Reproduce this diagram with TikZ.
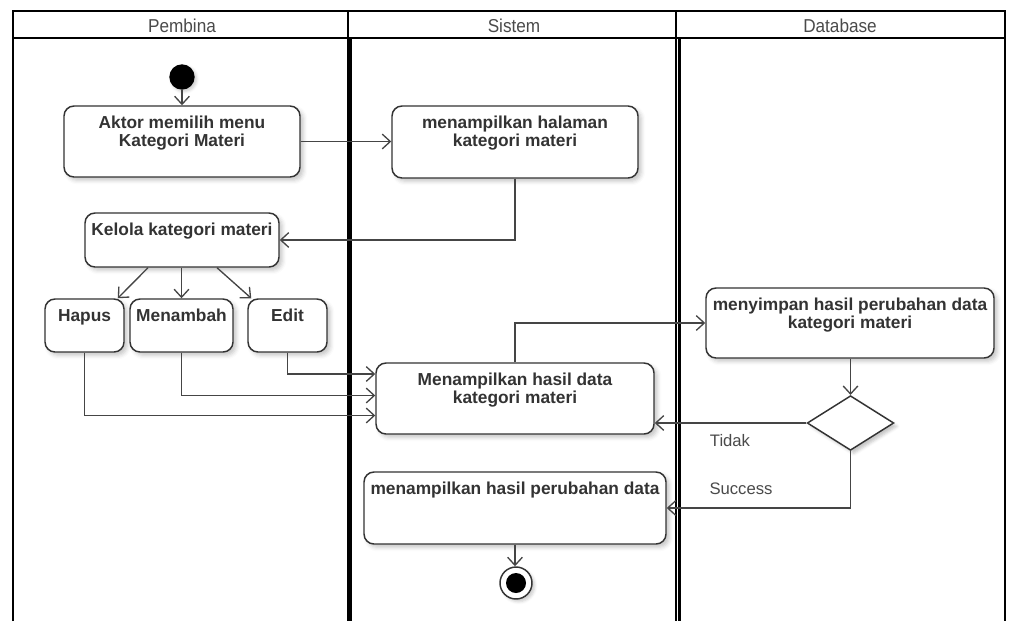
\documentclass[tikz,border=0pt]{standalone}
\usepackage{fontspec}
\setmainfont{Liberation Sans}
\usetikzlibrary{arrows.meta,shapes.geometric,fit,calc,shadows.blur}

\definecolor{ink}{HTML}{333333}
\definecolor{wire}{HTML}{454545}
\definecolor{capt}{HTML}{4A4A4A}

\begin{document}
\begin{tikzpicture}[x=0.75pt,y=-0.75pt,
  act/.style={draw=ink, line width=1.1pt, rounded corners=7.5pt, fill=white, inner sep=0pt,
    blur shadow={shadow xshift=2.5pt, shadow yshift=-2.5pt, shadow blur radius=3pt, shadow opacity=22}},
  % base of a one-line text; a two-line text has its base on the second line
  atext/.style={anchor=base, inner sep=0pt, yshift=-17.5pt, align=center, text=ink,
    font=\fontsize{13}{13.5}\selectfont\bfseries},
  atwo/.style={atext, yshift=-13.5pt},
  flow/.style={draw=wire, line width=1pt, -{Straight Barb[length=6pt,width=11pt]}},
  frame/.style={draw=black, line width=1.2pt},
  heavy/.style={draw=black, line width=3.8pt},
  medium/.style={draw=black, line width=2.5pt},
  lanehead/.style={anchor=base, inner sep=0pt, text=capt, font=\fontsize{14}{14}\selectfont},
  guard/.style={inner sep=0pt, text=capt, font=\fontsize{12.5}{12.5}\selectfont}
]
\useasboundingbox (0,0) rectangle (1009,621);

% swimlane frame
\draw[frame] (13,621) -- (13,10.7) -- (1005,10.7) -- (1005,621);
\draw[frame] (13,37.7) -- (1005,37.7);
\draw[frame] (348,10.7) -- (348,37.7);
\draw[frame] (676,10.7) -- (676,37.7);
\draw[heavy] (349.5,37.7) -- (349.5,621);
\draw[frame] (676,37.7) -- (676,621);
\draw[medium] (679.5,37.7) -- (679.5,621);

\node (hPembina) [lanehead] at (182,32) {\scalebox{0.92}[1]{Pembina}};
\node (hSistem) [lanehead] at (514,32) {\scalebox{0.92}[1]{Sistem}};
\node (hDatabase) [lanehead] at (840,32) {\scalebox{0.92}[1]{Database}};

% start and end
\node (init) [circle, fill=black, minimum size=19pt, inner sep=0pt,
  blur shadow={shadow xshift=1.5pt, shadow yshift=-1.5pt, shadow opacity=20}] at (182,77) {};
\node (fin) [circle, draw=ink, line width=1.1pt, fill=white, minimum size=24pt, inner sep=0pt,
  blur shadow={shadow xshift=2pt, shadow yshift=-2pt, shadow opacity=20},
  path picture={\fill[black] (path picture bounding box.center) circle (7.5pt);}] at (516,583) {};

% actions
\node (a1) [act, fit={(64,106)(300,177)},
  label={[atwo]north:{Aktor memilih menu\\Kategori Materi}}] {};
\node (s1) [act, fit={(392,106)(638,178)},
  label={[atwo]north:{menampilkan halaman\\kategori materi}}] {};
\node (kel) [act, fit={(85,213)(279,267)},
  label={[atext]north:{Kelola kategori materi}}] {};
\node (hap) [act, fit={(45,299)(124,352)},
  label={[atext]north:{Hapus}}] {};
\node (men) [act, fit={(130,299)(233,352)},
  label={[atext]north:{Menambah}}] {};
\node (edt) [act, fit={(248,299)(327,352)},
  label={[atext]north:{Edit}}] {};
\node (mh) [act, fit={(376,363)(654,434)},
  label={[atwo]north:{Menampilkan hasil data\\kategori materi}}] {};
\node (my) [act, fit={(706,288)(994,358)},
  label={[atwo]north:{menyimpan hasil perubahan data\\kategori materi}}] {};
\node (mp) [act, fit={(364,472)(666,544)},
  label={[atext]north:{menampilkan hasil perubahan data}}] {};

% decision
\node (dia) [diamond, draw=ink, line width=1.1pt, fill=white, inner sep=0pt,
  minimum width=65pt, minimum height=41pt,
  blur shadow={shadow xshift=2.5pt, shadow yshift=-2.5pt, shadow opacity=22}] at (850.5,423) {};

% flows
\draw[flow] (init) -- (init |- a1.north);
\draw[flow] (a1.east) -- (s1.west |- a1.east);
\draw[flow] (s1.south) |- (kel.east);
\draw[flow] ($(kel.south)+(-34,0)$) -- ($(hap.north east)+(-7,0)$);
\draw[flow] (kel.south -| men.north) -- (men.north);
\draw[flow] ($(kel.south)+(35,0)$) -- ($(edt.north west)+(4,0)$);
\draw[flow] (edt.south) |- ($(mh.west)+(0,-24.5)$);
\draw[flow] (men.south) |- ($(mh.west)+(0,-3)$);
\draw[flow] (hap.south) |- ($(mh.west)+(0,17)$);
\draw[flow] (mh.north) |- (my.west);
\draw[flow] (my.south -| dia.north) -- (dia.north);
\draw[flow] (dia.west) -- (dia.west -| mh.east);
\draw[flow] (dia.south) |- (mp.east);
\draw[flow] (mp.south) -- (mp.south |- fin.north);

\node (gTidak) [guard] at (730,441) {Tidak};
\node (gSuccess) [guard] at (741,489) {Success};
\end{tikzpicture}
\end{document}
